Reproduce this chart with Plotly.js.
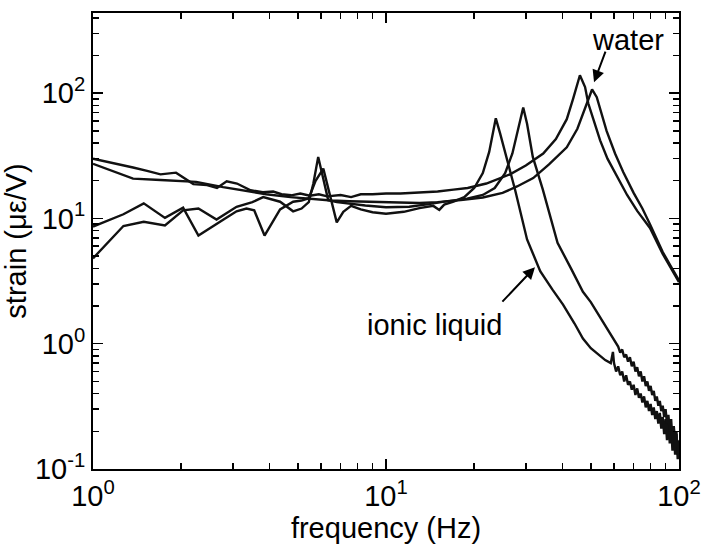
<!DOCTYPE html>
<html>
<head>
<meta charset="utf-8">
<script src="https://cdn.plot.ly/plotly-3.0.1.min.js"></script>
<style>html,body{margin:0;padding:0;background:#fff;}#chart{width:704px;height:548px;}</style>
</head>
<body>
<div id="chart"></div>
<script>
// water, higher peak (~46 Hz)
const freqW1 = [1,1.2,1.37,1.53,1.7,1.92,2.05,2.2,2.45,2.65,2.86,3.1,3.45,3.8,4.12,4.4,4.75,5.1,5.5,5.9,6.3,7,7.6,8.2,9,10,11.2,13,15,17,19,22,26.5,30,34.4,38,41.4,43.5,45.9,47.8,49,51,53.8,57,61.4,66.5,72,79.6,88,94,100];
const strainW1 = [30,27.5,25.5,24,22.5,23.2,21,18.8,18.5,17.5,19.8,19,16.8,16.2,16.4,15.6,15.3,15.8,15.2,15.6,15,15.4,14.8,15.6,15.6,15.8,15.8,16,16.4,17,17.5,19,22.5,26.5,33,43,62,90,139,112,83,62,42,30,21.5,15.4,11.5,8.4,5.2,4,3.1];
// water, lower peak (~50 Hz)
const freqW2 = [1,1.2,1.37,1.7,2.25,2.78,3.3,3.9,4.72,5.5,6.5,7.5,8.5,10,11.2,13,15,18,21.4,25,28,31.8,36,41.4,45,48.4,50.5,52.4,54,56.6,60.5,64.5,70,75,79.6,88,94,100];
const strainW2 = [27.3,23.5,20.8,20.3,19.6,17.8,16.6,15.6,14.8,14.3,13.9,13.7,13.6,13.5,13.3,13.3,13.5,14,14.7,16,18,21,27,37,52,83,107,93,72,50,33,23.5,16,12,9,5.4,4.1,3.2];
// ionic liquid, peak ~24 Hz
const freqIL1 = [1,1.27,1.49,1.76,2.03,2.29,2.79,3.09,3.34,3.55,3.85,4.35,4.82,5.15,5.45,5.75,6.11,6.45,6.79,7.15,7.6,8.2,9,10,11.5,13,14.5,15.2,15.8,17,18.5,20,21.4,22.5,23.2,23.7,24.5,25.9,27.6,30.3,33.6,37,40.2,44,47,50,53,56,58.5,59.5,60,61,62,63,64,65,66,67,68,69,70,71,72,73,74,75,76,77,78,79,80,81,82,83,84,85,86,87,88,89,90,91,92,93,94,95,96,97,98,99,100];
const strainIL1 = [8.6,10.8,13.2,10.1,12.2,7.3,9.8,11.4,12,11.6,7.3,11.8,13.6,13.9,14.5,20,25,15,9.3,11.3,12.6,11.8,11.2,10.9,11.3,12.1,12.6,11.7,12.9,13.6,14.8,17.5,23,34,50,63,48,29,16.8,6.8,3.8,2.7,2.05,1.45,1.1,0.92,0.82,0.74,0.7,0.86,0.7,0.6,0.66,0.56,0.6,0.5,0.56,0.47,0.5,0.43,0.47,0.39,0.44,0.37,0.4,0.34,0.38,0.31,0.35,0.29,0.33,0.27,0.31,0.25,0.29,0.23,0.28,0.21,0.26,0.19,0.25,0.17,0.24,0.16,0.22,0.14,0.21,0.13,0.19,0.12,0.15];
// ionic liquid, peak ~29 Hz
const freqIL2 = [1,1.27,1.49,1.76,2.03,2.29,2.64,3.09,3.5,3.81,4.35,4.82,5.15,5.45,5.65,5.87,6.1,6.35,6.8,7.5,8.5,10,12,14,16,18.9,21.4,23.5,25.5,27,28.3,29.4,30.3,31.7,34.3,38.5,43,47,50,54,58,62,63,64,65,66,67,68,69,70,71,72,73,74,75,76,77,78,79,80,81,82,83,84,85,86,87,88,89,90,91,92,93,94,95,96,97,98,99,100];
const strainIL2 = [4.8,8.7,9.4,8.8,11.6,12,9.8,12.4,13.5,14.8,13.6,11.4,12,13.5,19,31,21,14,13.5,13.1,12.7,12.3,12.4,13,13.7,14.4,15.4,17.5,23,33,52,77,57,31,17,6.4,3.9,2.6,2.15,1.6,1.22,0.95,0.85,0.9,0.78,0.82,0.72,0.78,0.66,0.72,0.6,0.65,0.55,0.6,0.5,0.55,0.46,0.5,0.42,0.46,0.39,0.42,0.35,0.38,0.32,0.35,0.29,0.32,0.26,0.3,0.23,0.27,0.2,0.25,0.17,0.22,0.15,0.2,0.13,0.17];

const xMajor = [1,10,100];
const xMajorText = ['10<sup>0</sup>','10<sup>1</sup>','10<sup>2</sup>'];
const xMinor = [2,3,4,5,6,7,8,9,20,30,40,50,60,70,80,90];
const yMajor = [0.1,1,10,100];
const yMajorText = ['10<sup>-1</sup>','10<sup>0</sup>','10<sup>1</sup>','10<sup>2</sup>'];
const yMinor = [0.2,0.3,0.4,0.5,0.6,0.7,0.8,0.9,2,3,4,5,6,7,8,9,20,30,40,50,60,70,80,90,200,300,400];

const lineStyle = {color:'#111', width:2.4};
const traces = [
  {x:freqW1, y:strainW1, name:'water 1', mode:'lines', line:lineStyle},
  {x:freqW2, y:strainW2, name:'water 2', mode:'lines', line:lineStyle},
  {x:freqIL1, y:strainIL1, name:'ionic liquid 1', mode:'lines', line:lineStyle},
  {x:freqIL2, y:strainIL2, name:'ionic liquid 2', mode:'lines', line:lineStyle}
];

const FONT = 'Liberation Sans, Arial, Helvetica, sans-serif';
const FS = 29;
const axisCommon = {
  type:'log', showgrid:false, zeroline:false, showline:true, linecolor:'#000', linewidth:2,
  mirror:'ticks', ticks:'inside', ticklen:10, tickwidth:1.5, tickcolor:'#000',
  tickmode:'array', tickfont:{family:FONT, size:FS, color:'#000'}
};
const layout = {
  width:704, height:548,
  margin:{l:93, r:25, t:13, b:79},
  paper_bgcolor:'#fff', plot_bgcolor:'#fff',
  showlegend:false,
  font:{family:FONT, color:'#000'},
  xaxis:Object.assign({}, axisCommon, {
    range:[0,2], tickvals:xMajor, ticktext:xMajorText,
    minor:{tickmode:'array', tickvals:xMinor, ticks:'inside', ticklen:6, tickwidth:1.5, tickcolor:'#000'},
    title:{text:'frequency (Hz)', font:{family:FONT, size:FS, color:'#000'}, standoff:2}
  }),
  yaxis:Object.assign({}, axisCommon, {
    range:[-1,2.64], tickvals:yMajor, ticktext:yMajorText,
    minor:{tickmode:'array', tickvals:yMinor, ticks:'inside', ticklen:6, tickwidth:1.5, tickcolor:'#000'},
    title:{text:'strain (με/V)', font:{family:FONT, size:FS, color:'#000'}, standoff:2}
  }),
  annotations:[
    {xref:'x', yref:'y', x:1.826, y:2.423, text:'water', showarrow:false, font:{family:FONT, size:FS, color:'#000'}},
    {xref:'x', yref:'y', x:1.164, y:0.1485, text:'ionic liquid', showarrow:false, font:{family:FONT, size:FS, color:'#000'}},
    {xref:'x', yref:'y', x:1.71, y:2.088, text:'', showarrow:true, arrowhead:2, arrowsize:1.2, arrowwidth:2, arrowcolor:'#000', ax:12, ay:-32},
    {xref:'x', yref:'y', x:1.5085, y:0.611, text:'', showarrow:true, arrowhead:2, arrowsize:1.2, arrowwidth:2, arrowcolor:'#000', ax:-34, ay:36}
  ]
};
Plotly.newPlot('chart', traces, layout, {staticPlot:true, displayModeBar:false});
</script>
</body>
</html>
